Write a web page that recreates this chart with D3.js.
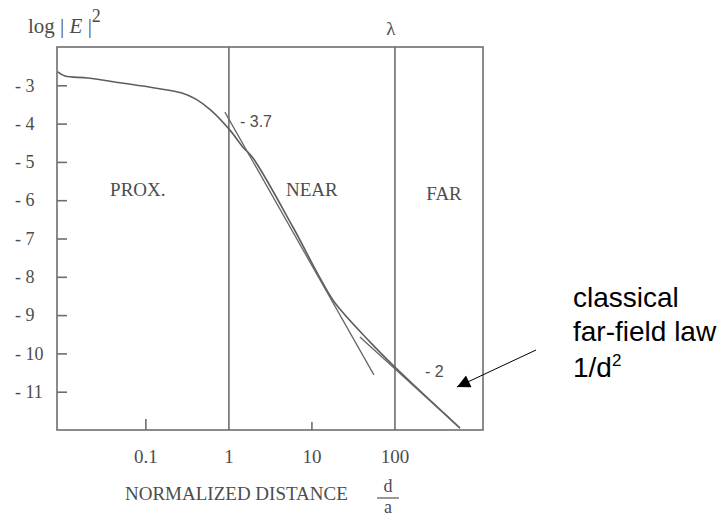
<!DOCTYPE html>
<html>
<head>
<meta charset="utf-8">
<script src="https://cdn.jsdelivr.net/npm/d3@7"></script>
<style>
  body { margin: 0; background: #fff; }
  svg { display: block; }
  .frame { fill: none; stroke: #6e6e6e; stroke-width: 1.6; }
  .curve { fill: none; stroke: #5e5e5e; stroke-width: 1.6; }
  .tangent { fill: none; stroke: #666; stroke-width: 1.3; }
  .lbl { font-family: "Liberation Serif", "DejaVu Serif", serif; fill: #4d4d4d; }
  .sans { font-family: "Liberation Sans", Arial, sans-serif; }
</style>
</head>
<body>
<svg id="svg" width="726" height="518"></svg>
<script>
// 数据：从图上读出的 |E|^2 曲线（x = d/a，y = log|E|^2）
const curveX = [0.0087, 0.0106, 0.020, 0.0514, 0.128, 0.272, 0.40, 0.60, 1.03, 1.47, 1.95, 5.9, 12.5, 18.9, 50, 100, 607];
const curveY = [-2.65, -2.76, -2.81, -2.94, -3.07, -3.20, -3.36, -3.64, -4.17, -4.61, -4.90, -6.70, -8.03, -8.68, -9.70, -10.36, -11.95];

// 两条渐近线（斜率 -3.7 和 -2）
const nearX = [0.895, 55.8], nearY = [-3.70, -10.56];
const farX = [37.9, 607], farY = [-9.57, -11.95];

const xTicks = [0.1, 1, 10, 100];
const xTickLabels = ["0.1", "1", "10", "100"];
const yTicks = [-3, -4, -5, -6, -7, -8, -9, -10, -11];
const regionLabels = ["PROX.", "NEAR", "FAR"];
const noteLines = ["classical", "far-field law"];

const svg = d3.select('#svg');
const L = 57, R = 483, T = 47, B = 430;

const x = d3.scaleLog().domain([0.0085, 1150]).range([L, R]);
const y = d3.scaleLinear().domain([-12, -2]).range([B, T]);

// 边框
svg.append('rect').attr('class', 'frame')
  .attr('x', L).attr('y', T).attr('width', R - L).attr('height', B - T);

// 区域分界线：1 和 100
[1, 100].forEach(v => {
  svg.append('line').attr('class', 'frame')
    .attr('x1', x(v)).attr('x2', x(v)).attr('y1', T).attr('y2', B);
});

// y 轴（刻度朝内）
const yAxis = svg.append('g').attr('transform', `translate(${L},0)`)
  .call(d3.axisLeft(y).tickValues(yTicks).tickSize(-10).tickFormat(d => '- ' + Math.abs(d)));
yAxis.select('.domain').remove();
yAxis.selectAll('line').attr('stroke', '#6e6e6e').attr('stroke-width', 1.6);
yAxis.selectAll('text').attr('class', 'lbl').attr('x', 15 - L)
  .attr('text-anchor', 'start').style('font-size', '18px').attr('fill', '#4d4d4d');

// x 轴：0.1 和 10 的短刻度
[0.1, 10].forEach((v, i) => {
  svg.append('line').attr('class', 'frame')
    .attr('x1', x(v)).attr('x2', x(v)).attr('y1', B).attr('y2', B - (i ? 8 : 11));
});
svg.selectAll('.xl').data(xTicks).join('text')
  .attr('class', 'lbl').attr('x', d => x(d)).attr('y', 463)
  .attr('text-anchor', 'middle').style('font-size', '19px')
  .text((d, i) => xTickLabels[i]);

// 坐标轴标题
svg.append('text').attr('class', 'lbl').attr('x', 125).attr('y', 500)
  .style('font-size', '19px').text('NORMALIZED DISTANCE');
svg.append('text').attr('class', 'lbl').attr('x', 388).attr('y', 492)
  .attr('text-anchor', 'middle').style('font-size', '18px').text('d');
svg.append('line').attr('x1', 377).attr('x2', 399).attr('y1', 498).attr('y2', 498)
  .attr('stroke', '#555').attr('stroke-width', 1.2);
svg.append('text').attr('class', 'lbl').attr('x', 388).attr('y', 513)
  .attr('text-anchor', 'middle').style('font-size', '18px').text('a');

const yt = svg.append('text').attr('class', 'lbl').attr('x', 28).attr('y', 33).style('font-size', '21px');
yt.append('tspan').text('log | ');
yt.append('tspan').style('font-style', 'italic').text('E');
yt.append('tspan').text(' |');
yt.append('tspan').attr('dy', -11).style('font-size', '18px').text('2');

svg.append('text').attr('class', 'lbl').attr('x', x(100) - 4).attr('y', 35)
  .attr('text-anchor', 'middle').style('font-size', '19px').text('λ');

// 区域名称
const regionX = [0.08, 10, 390];
svg.selectAll('.rg').data(regionLabels).join('text')
  .attr('class', 'lbl').attr('x', (d, i) => x(regionX[i])).attr('y', (d, i) => i === 2 ? 200 : 196)
  .attr('text-anchor', 'middle').style('font-size', '19px').text(d => d);

// 曲线
const pts = curveX.map((v, i) => [x(v), y(curveY[i])]);
svg.append('path').attr('class', 'curve')
  .attr('d', d3.line().curve(d3.curveCatmullRom.alpha(0.5))(pts));

// 渐近线
[[nearX, nearY], [farX, farY]].forEach(([xs, ys]) => {
  svg.append('path').attr('class', 'tangent')
    .attr('d', d3.line()(xs.map((v, i) => [x(v), y(ys[i])])));
});

svg.append('text').attr('class', 'lbl sans').attr('x', 240).attr('y', 127)
  .style('font-size', '16px').text('- 3.7');
svg.append('text').attr('class', 'lbl sans').attr('x', 425).attr('y', 377)
  .style('font-size', '16px').text('- 2');

// 右侧注释 + 箭头
svg.append('defs').append('marker').attr('id', 'ah')
  .attr('viewBox', '0 0 10 10').attr('refX', 10).attr('refY', 5)
  .attr('markerWidth', 16).attr('markerHeight', 13).attr('markerUnits', 'userSpaceOnUse')
  .attr('orient', 'auto')
  .append('path').attr('d', 'M0,0L10,5L0,10Z').attr('fill', '#000');
svg.append('line').attr('x1', 536).attr('y1', 350).attr('x2', 457).attr('y2', 387)
  .attr('stroke', '#000').attr('stroke-width', 1).attr('marker-end', 'url(#ah)');

const note = svg.append('g').attr('class', 'sans').style('font-size', '28px').attr('fill', '#000');
noteLines.forEach((t, i) => {
  note.append('text').attr('x', 573).attr('y', 307 + i * 34).text(t);
});
const n3 = note.append('text').attr('x', 573).attr('y', 377);
n3.append('tspan').text('1/d');
n3.append('tspan').attr('dy', -11).style('font-size', '17px').text('2');
</script>
</body>
</html>
